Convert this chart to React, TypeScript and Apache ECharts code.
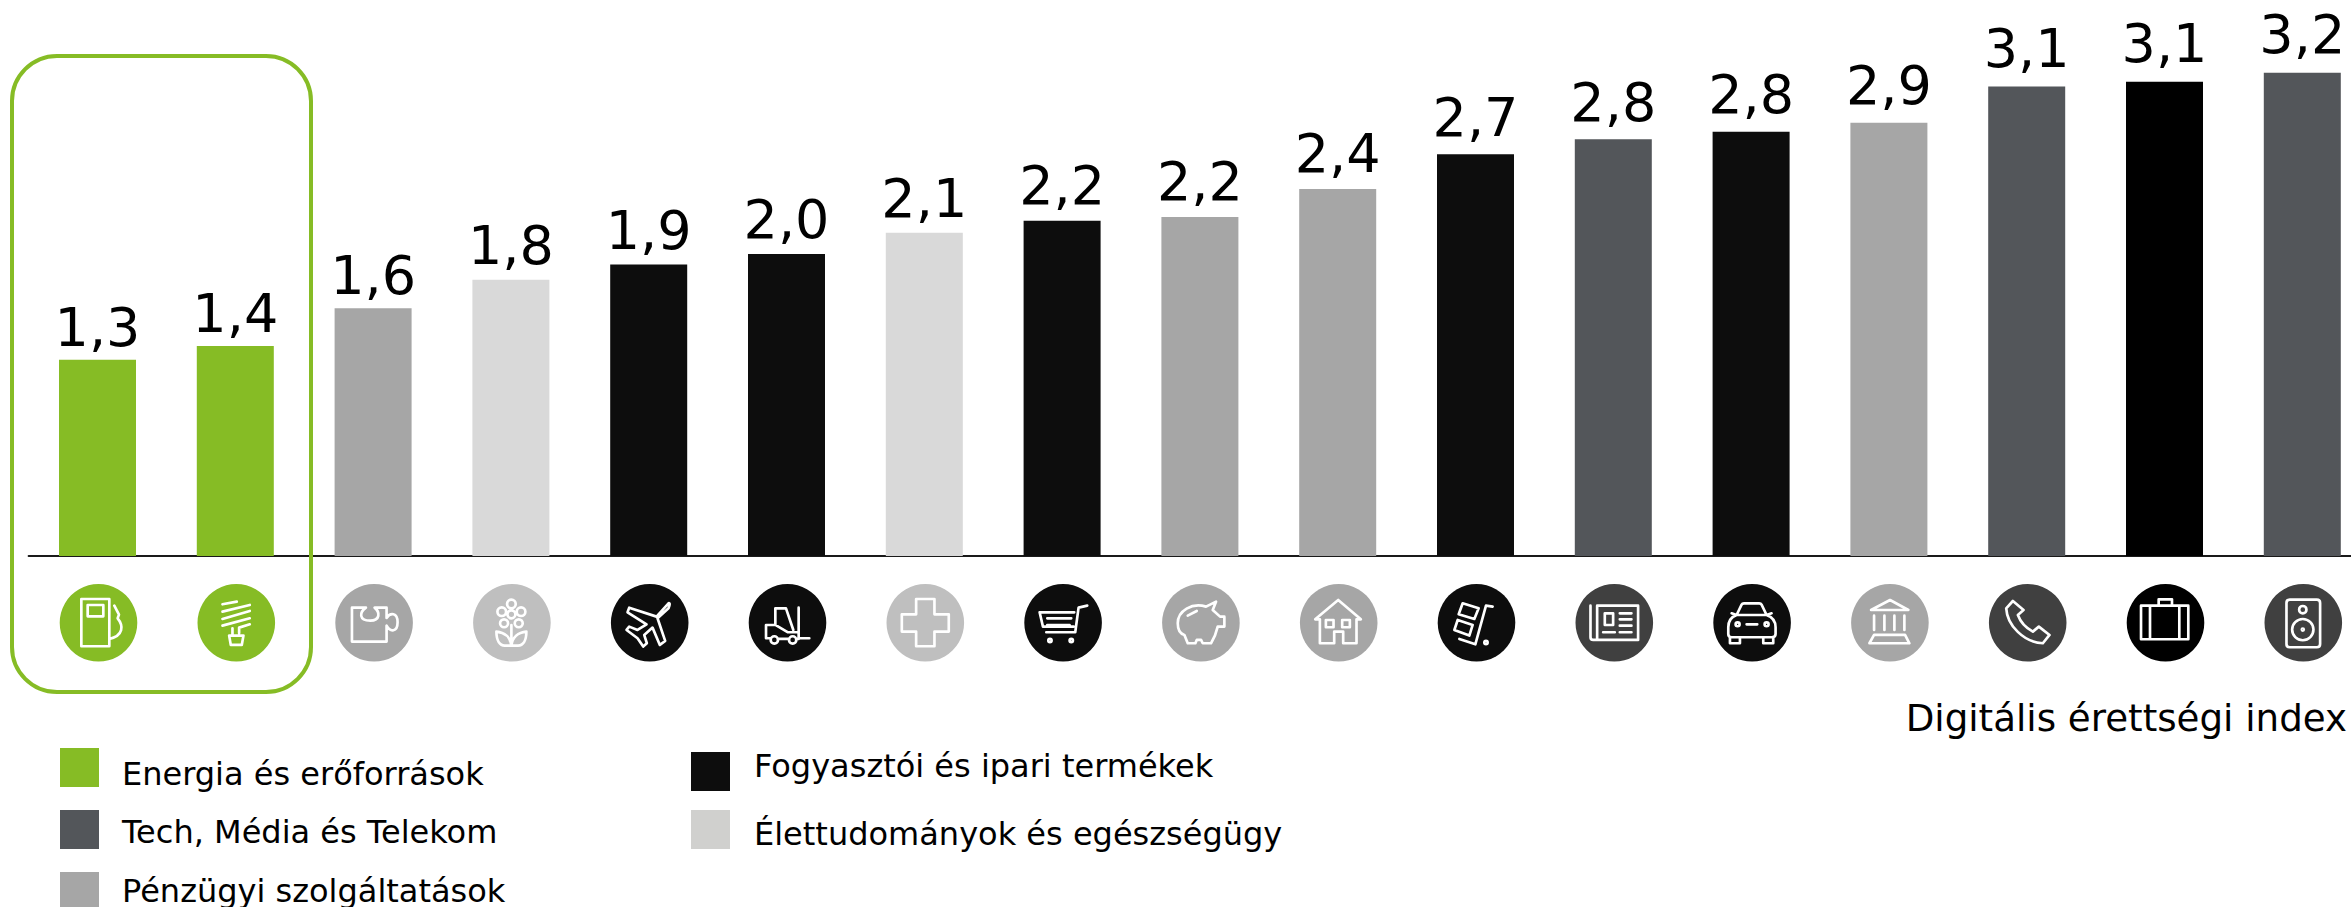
import React, { useEffect, useRef } from "react";
import * as echarts from "echarts";

const categories = [
  "Olaj és gáz", "Energia", "Üzleti szolgáltatások", "Agrár", "Légi közlekedés", "Ipari termékek",
  "Egészségügy", "Kiskereskedelem", "Bank", "Ingatlan", "Logisztika", "Média",
  "Autóipar", "Intézmények", "Telekom", "Szakmai szolgáltatások", "Technológia",
];
const values = [1.3, 1.39, 1.64, 1.83, 1.93, 2.0, 2.14, 2.22, 2.245, 2.43, 2.66, 2.76, 2.81, 2.87, 3.11, 3.14, 3.2];
const barColors = [
  "#86BC25", "#86BC25", "#A6A6A6", "#D9D9D9", "#0D0D0D", "#0D0D0D", "#D9D9D9", "#0D0D0D", "#A6A6A6",
  "#A6A6A6", "#0D0D0D", "#53565A", "#0D0D0D", "#A6A6A6", "#53565A", "#000000", "#53565A",
];
const iconColors = [
  "#86BC25", "#86BC25", "#A6A6A6", "#BFBFBF", "#0D0D0D", "#0D0D0D", "#BFBFBF", "#0D0D0D", "#A6A6A6",
  "#A6A6A6", "#0D0D0D", "#404040", "#0D0D0D", "#A6A6A6", "#404040", "#000000", "#404040",
];
const circ = (x: number, y: number, r: number) =>
  `M${x - r} ${y}A${r} ${r} 0 1 0 ${x + r} ${y}A${r} ${r} 0 1 0 ${x - r} ${y}Z `;
const iconPaths = [
  "M65 45H149V187H65Z M84 63H131V97H84Z M164 65L178 92L174 103C192 125 192 155 149 165",
  "M75 61L118 53 M75 83L157 63 M75 105L157 81 M75 125L157 103 M125 148V131L157 121 M105 133V155 M95 155H138L133 183H100Z",
  "M50 71H92C72 85 70 110 105 110C135 110 135 85 118 71H154V102C165 85 187 85 187 115C187 145 165 145 154 125V173H50Z",
  circ(115, 91, 12) + circ(115, 60, 13) + circ(86, 83, 13) + circ(144, 83, 13) + circ(93, 118, 12) + circ(137, 118, 12) +
    "M115 123V180 M70 143C95 145 112 160 115 185H95C80 185 70 170 70 143Z M160 143C135 145 118 160 115 185H135C150 185 160 170 160 143Z",
  "M173 58L137 98L55 71L50 85L107 121L80 138L55 128L47 138L80 163L97 188L108 178L100 153L125 131L147 183L163 171L140 103L173 73Q180 55 173 58Z",
  "M150 71V163H182 M80 123V73H112L134 138 M52 123H80L118 145H150 M52 123V163H66 M88 165H121 M143 165H150 " + circ(77, 168, 11) + circ(132, 168, 11),
  "M89 45H144V91H187V143H144V187H89V143H46V91H89Z",
  "M189 65L163 71L153 145H66 M46 85H150 M46 85L56 128H148 M69 103H141 M69 123H136 " + circ(77, 170, 5) + circ(141, 170, 5),
  "M132 68L162 53L152 78L174 98H187V128H167C162 150 155 165 147 178H122L117 168H104L100 178H77L67 153C55 150 47 140 47 118C47 80 90 55 132 68Z M77 95L104 81",
  "M46 106L115 48L183 106H170V178H130V143H103V178H60V106Z M78 108H101V130H78Z M127 108H150V130H127Z",
  "M165 68L145 65L113 181L65 165 M75 58L123 73L110 105L63 91Z M60 108L105 123L95 155L50 138Z " + circ(145, 176, 5),
  "M65 65H188V168H53Q45 168 45 160V65 M65 65V168 M88 88H113V123H88Z M133 88H168 M133 106H168 M133 125H168 M83 145H118 M133 145H168",
  "M70 93L85 62Q87 58 92 58H138Q143 58 145 62L160 93 M55 88L70 93H160L175 88 M70 93C50 100 45 115 45 130V150Q45 160 55 160H175Q187 160 187 150V130C187 115 180 100 160 93 M50 160V178H80V160 M150 160V178H180V160 M100 121H132 " +
    circ(73, 121, 6) + circ(160, 121, 6),
  "M117 48L172 78H60Z M69 95V138 M100 95V138 M130 95V138 M160 95V138 M69 153H162L175 178H55Z",
  "M72 51L104 78L87 93C95 115 112 132 132 143L150 128L182 153L162 178C105 175 55 125 52 73Z",
  "M43 65H185V166H43Z M96 65V46H136V65 M70 65V166 M158 65V166",
  "M76 47H157Q167 47 167 57V180Q167 190 157 190H76Q66 190 66 180V57Q66 47 76 47Z " + circ(115, 77, 11) + circ(115, 137, 32) + circ(115, 137, 3),
];
const legendColumnOne = ["Energia és erőforrások", "Tech, Média és Telekom", "Pénzügyi szolgáltatások"];
const legendColumnOneColors = ["#86BC25", "#53565A", "#A6A6A6"];
const legendColumnTwo = ["Fogyasztói és ipari termékek", "Élettudományok és egészségügy"];
const legendColumnTwoColors = ["#0D0D0D", "#D0D0CE"];
const axisTitle = "Digitális érettségi index";

const FONT = '"DejaVu Sans", Verdana, sans-serif';

export default function App() {
  const ref = useRef<HTMLDivElement>(null);
  useEffect(() => {
    document.body.style.margin = "0";
    const chart = echarts.init(ref.current!, null, { renderer: "svg" });
    const legendFont = { fontFamily: FONT, fontSize: 32, fill: "#000" };
    const swatch = (x: number, y: number, fill: string) => ({
      type: "rect", shape: { x, y, width: 39, height: 39 }, style: { fill },
    });
    const text = (x: number, y: number, t: string, extra: any = {}) => ({
      type: "text", x, y, style: { ...legendFont, text: t, textVerticalAlign: "bottom", ...extra },
    });
    const colOneY = [748, 810, 872];
    const colOneBase = [790, 848, 907];
    const colTwoY = [752, 810];
    const colTwoBase = [782, 850];
    chart.setOption({
      animation: false,
      grid: { left: 28.6, top: 12.4, bottom: 351, width: 2342.6 },
      xAxis: {
        type: "category",
        data: categories,
        axisTick: { show: false },
        axisLabel: { show: false },
        axisLine: { lineStyle: { color: "#1a1a1a", width: 2 } },
      },
      yAxis: { type: "value", min: 0, max: 3.6, show: false, splitLine: { show: false } },
      series: [
        {
          type: "bar",
          barWidth: 77,
          data: values.map((v, i) => ({
            value: v,
            itemStyle: { color: barColors[i] },
            label: { distance: 5 + (v - 1.3) * 3.2 },
          })),
          label: {
            show: true,
            position: "top",
            color: "#000",
            fontFamily: FONT,
            fontSize: 54,
            formatter: (p: any) => p.value.toFixed(1).replace(".", ","),
          },
        },
        {
          type: "custom",
          clip: false,
          data: categories.map((_, i) => [i, 0]),
          encode: { x: 0, y: 1 },
          renderItem: (params: any, api: any) => {
            const i = params.dataIndex;
            const [cx, cy] = api.coord([api.value(0), 0]);
            const left = cx + 1 - 38.8;
            const top = cy + 28;
            return {
              type: "group",
              children: [
                { type: "circle", shape: { cx: cx + 1, cy: top + 38.8, r: 38.8 }, style: { fill: iconColors[i] } },
                {
                  type: "path",
                  x: left,
                  y: top,
                  scaleX: 1 / 3,
                  scaleY: 1 / 3,
                  shape: { pathData: iconPaths[i] },
                  style: { fill: "none", stroke: "#fff", lineWidth: 8, lineJoin: "round", lineCap: "round" },
                },
              ],
            };
          },
        },
      ],
      graphic: {
        elements: [
          {
            type: "rect",
            shape: { x: 12, y: 56, width: 299, height: 636, r: 45 },
            style: { fill: "none", stroke: "#86BC25", lineWidth: 4 },
            z: 10,
          },
          ...legendColumnOne.flatMap((t, i) => [
            swatch(60, colOneY[i], legendColumnOneColors[i]),
            text(122, colOneBase[i], t),
          ]),
          ...legendColumnTwo.flatMap((t, i) => [
            swatch(691, colTwoY[i], legendColumnTwoColors[i]),
            text(754, colTwoBase[i], t),
          ]),
          text(2347, 736, axisTitle, { fontSize: 37.2, textAlign: "right" }),
        ],
      },
    });
    return () => chart.dispose();
  }, []);
  return (
    <div style={{ width: 2351, height: 907, overflow: "hidden" }}>
      <div ref={ref} style={{ width: 2400, height: 907 }} />
    </div>
  );
}
